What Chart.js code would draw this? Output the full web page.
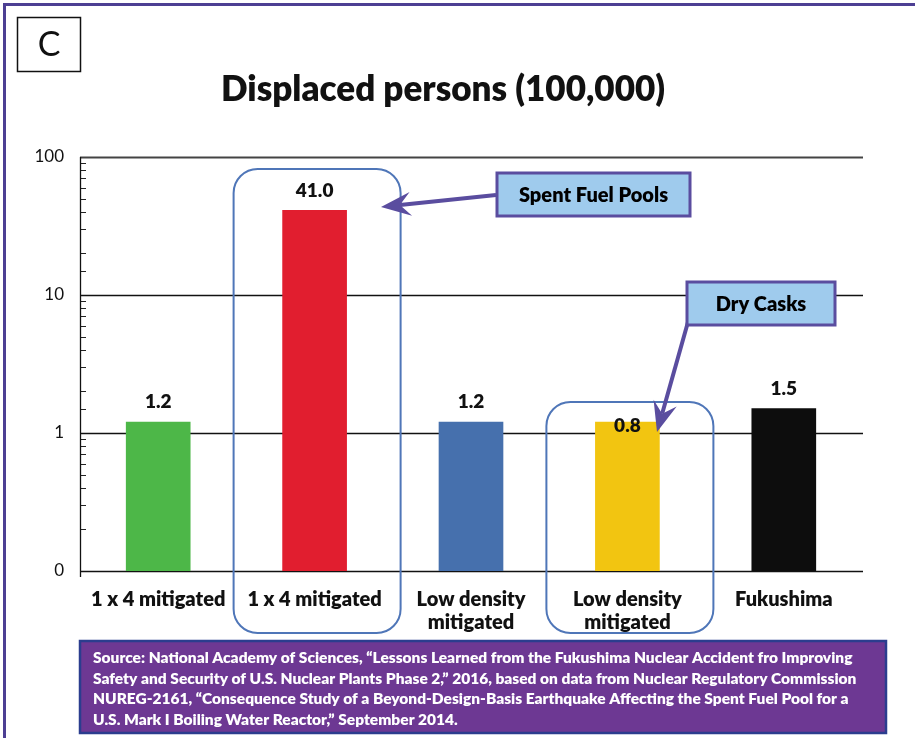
<!DOCTYPE html>
<html lang="en">
<head>
    <meta charset="UTF-8">
    <title>Displaced persons (100,000)</title>
    <script src="https://cdn.jsdelivr.net/npm/chart.js"></script>
    <style>
        html, body {
            margin: 0;
            padding: 0;
            background: #ffffff;
        }
        #wrap {
            width: 915px;
            height: 738px;
            position: relative;
        }
    </style>
</head>
<body>
    <div id="wrap">
        <canvas id="chart" width="915" height="738"></canvas>
    </div>

    <script>
        // data
        const categories = [['1 x 4 mitigated'], ['1 x 4 mitigated'], ['Low density', 'mitigated'], ['Low density', 'mitigated'], ['Fukushima']];
        const values = [1.2, 41.0, 1.2, 1.2, 1.5];
        const valueLabels = ['1.2', '41.0', '1.2', '0.8', '1.5'];
        const yTickValues = [0.1, 1, 10, 100];
        const yTickLabels = ['0', '1', '10', '100'];
        const barColors = ['#4db748', '#e11e2f', '#4670ad', '#f2c511', '#0d0d0d'];

        const chartTitle = 'Displaced persons (100,000)';
        const panelLetter = 'C';
        const sourceLines = [
            'Source: National Academy of Sciences, \u201cLessons Learned from the Fukushima Nuclear Accident fro Improving',
            'Safety and Security of U.S. Nuclear Plants Phase 2,\u201d 2016, based on data from Nuclear Regulatory Commission',
            'NUREG-2161, \u201cConsequence Study of a Beyond-Design-Basis Earthquake Affecting the Spent Fuel Pool for a',
            'U.S. Mark I Boiling Water Reactor,\u201d September 2014.'
        ];

        const FONT = 'Lato, "Open Sans", sans-serif';
        const HEAVY = '800';
        const PURPLE = '#5a4d9f';

        function roundRect(ctx, x, y, w, h, r) {
            ctx.beginPath();
            ctx.moveTo(x + r, y);
            ctx.lineTo(x + w - r, y);
            ctx.arcTo(x + w, y, x + w, y + r, r);
            ctx.lineTo(x + w, y + h - r);
            ctx.arcTo(x + w, y + h, x + w - r, y + h, r);
            ctx.lineTo(x + r, y + h);
            ctx.arcTo(x, y + h, x, y + h - r, r);
            ctx.lineTo(x, y + r);
            ctx.arcTo(x, y, x + r, y, r);
            ctx.closePath();
        }

        function arrow(ctx, x0, y0, x1, y1) {
            const a = Math.atan2(y1 - y0, x1 - x0);
            const L = 30, W = 12, N = 19;
            const cos = Math.cos(a), sin = Math.sin(a);
            ctx.strokeStyle = PURPLE;
            ctx.fillStyle = PURPLE;
            ctx.lineWidth = 4;
            ctx.beginPath();
            ctx.moveTo(x0, y0);
            ctx.lineTo(x1 - cos * N, y1 - sin * N);
            ctx.stroke();
            ctx.beginPath();
            ctx.moveTo(x1, y1);
            ctx.lineTo(x1 - cos * L - sin * W, y1 - sin * L + cos * W);
            ctx.lineTo(x1 - cos * N, y1 - sin * N);
            ctx.lineTo(x1 - cos * L + sin * W, y1 - sin * L - cos * W);
            ctx.closePath();
            ctx.fill();
        }

        function callout(ctx, text, x, y, w, h) {
            ctx.fillStyle = '#9fcbed';
            ctx.fillRect(x, y, w, h);
            ctx.strokeStyle = PURPLE;
            ctx.lineWidth = 3;
            ctx.strokeRect(x, y, w, h);
            ctx.fillStyle = '#000';
            ctx.font = HEAVY + ' 20px ' + FONT;
            ctx.textAlign = 'center';
            ctx.textBaseline = 'middle';
            ctx.fillText(text, x + w / 2, y + h / 2 + 1);
        }

        // grid lines, minor ticks, axis lines
        const gridPlugin = {
            id: 'gridPlugin',
            beforeDatasetsDraw(chart) {
                const { ctx, chartArea, scales } = chart;
                const y = scales.y;
                ctx.save();
                // minor ticks inside the axis
                ctx.strokeStyle = '#222';
                ctx.lineWidth = 1;
                y.ticks.forEach(t => {
                    const p = Math.round(y.getPixelForValue(t.value)) + 0.5;
                    ctx.beginPath();
                    ctx.moveTo(chartArea.left, p);
                    ctx.lineTo(chartArea.left + 6, p);
                    ctx.stroke();
                });
                // major grid lines
                yTickValues.forEach(v => {
                    const p = Math.round(y.getPixelForValue(v)) + 0.5;
                    ctx.strokeStyle = v === 100 ? '#444' : '#111';
                    ctx.lineWidth = v === 100 ? 2 : 1.3;
                    ctx.beginPath();
                    ctx.moveTo(chartArea.left, p);
                    ctx.lineTo(chartArea.right + 1, p);
                    ctx.stroke();
                });
                // left axis
                ctx.strokeStyle = '#111';
                ctx.lineWidth = 1.3;
                ctx.beginPath();
                ctx.moveTo(chartArea.left + 0.5, chartArea.top);
                ctx.lineTo(chartArea.left + 0.5, chartArea.bottom + 6);
                ctx.stroke();
                ctx.restore();
            }
        };

        // labels, annotations, title, source, frame
        const decorPlugin = {
            id: 'decorPlugin',
            afterDraw(chart) {
                const { ctx, scales } = chart;
                const x = scales.x, y = scales.y;
                ctx.save();

                // value labels
                ctx.fillStyle = '#111';
                ctx.font = HEAVY + ' 19px ' + FONT;
                ctx.textAlign = 'center';
                ctx.textBaseline = 'middle';
                valueLabels.forEach((lab, i) => {
                    const cx = x.getPixelForValue(i);
                    const py = y.getPixelForValue(parseFloat(lab)) - 20;
                    ctx.fillText(lab, cx, py);
                });

                // rounded highlight boxes around the spent-fuel and dry-cask bars
                ctx.strokeStyle = '#4f76b8';
                ctx.lineWidth = 2;
                [[1, 169], [3, 402]].forEach(([i, top]) => {
                    const cx = x.getPixelForValue(i);
                    roundRect(ctx, cx - 81, top, 167, 633 - top, 24);
                    ctx.stroke();
                });

                // callouts with arrows
                arrow(ctx, 496, 195, 381, 207);
                callout(ctx, 'Spent Fuel Pools', 497, 173, 193, 43);
                arrow(ctx, 688, 322, 657, 432);
                callout(ctx, 'Dry Casks', 687, 282, 148, 43);

                // title
                ctx.fillStyle = '#111';
                ctx.font = HEAVY + ' 35px ' + FONT;
                ctx.textAlign = 'center';
                ctx.textBaseline = 'middle';
                ctx.fillText(chartTitle, 443, 90, 452);

                // panel letter box
                ctx.strokeStyle = '#111';
                ctx.lineWidth = 1.5;
                ctx.strokeRect(17.5, 17.5, 63, 54);
                ctx.font = '34px ' + FONT;
                ctx.fillText(panelLetter, 49, 45);

                // source box
                ctx.fillStyle = '#6d3893';
                ctx.fillRect(80, 641, 806, 92);
                ctx.strokeStyle = '#2b3d8e';
                ctx.lineWidth = 2.5;
                ctx.strokeRect(80, 641, 806, 92);
                ctx.fillStyle = '#ffffff';
                ctx.font = HEAVY + ' 15.5px ' + FONT;
                ctx.textAlign = 'left';
                sourceLines.forEach((line, i) => {
                    ctx.fillText(line, 93, 658 + i * 20.5, 776);
                });

                // outer frame
                ctx.strokeStyle = '#4d3f93';
                ctx.lineWidth = 3;
                ctx.beginPath();
                ctx.moveTo(4.5, 740);
                ctx.lineTo(4.5, 4.5);
                ctx.lineTo(916, 4.5);
                ctx.stroke();

                ctx.restore();
            }
        };

        const ctx = document.getElementById('chart').getContext('2d');
        const chart = new Chart(ctx, {
            type: 'bar',
            data: {
                labels: categories,
                datasets: [{
                    data: values,
                    backgroundColor: barColors,
                    borderWidth: 0,
                    barThickness: 64
                }]
            },
            options: {
                responsive: false,
                animation: false,
                layout: {
                    padding: { left: 0, right: 53, top: 157, bottom: 97 }
                },
                plugins: {
                    legend: { display: false },
                    tooltip: { enabled: false }
                },
                scales: {
                    x: {
                        grid: { display: false, drawTicks: false },
                        border: { display: false },
                        ticks: {
                            color: '#111',
                            padding: 17,
                            maxRotation: 0,
                            autoSkip: false,
                            font: { family: FONT, size: 20, weight: HEAVY, lineHeight: 1.15 }
                        },
                        afterFit(scale) { scale.height = 70; }
                    },
                    y: {
                        type: 'logarithmic',
                        min: 0.1,
                        max: 100,
                        grid: { display: false, drawTicks: false },
                        border: { display: false },
                        ticks: {
                            color: '#111',
                            padding: 16,
                            autoSkip: false,
                            font: { family: FONT, size: 17 },
                            callback(value) {
                                const k = yTickValues.findIndex(v => Math.abs(v - value) < 1e-9);
                                return k >= 0 ? yTickLabels[k] : '';
                            }
                        },
                        afterFit(scale) { scale.width = 80; }
                    }
                }
            },
            plugins: [gridPlugin, decorPlugin]
        });
    </script>
</body>
</html>
